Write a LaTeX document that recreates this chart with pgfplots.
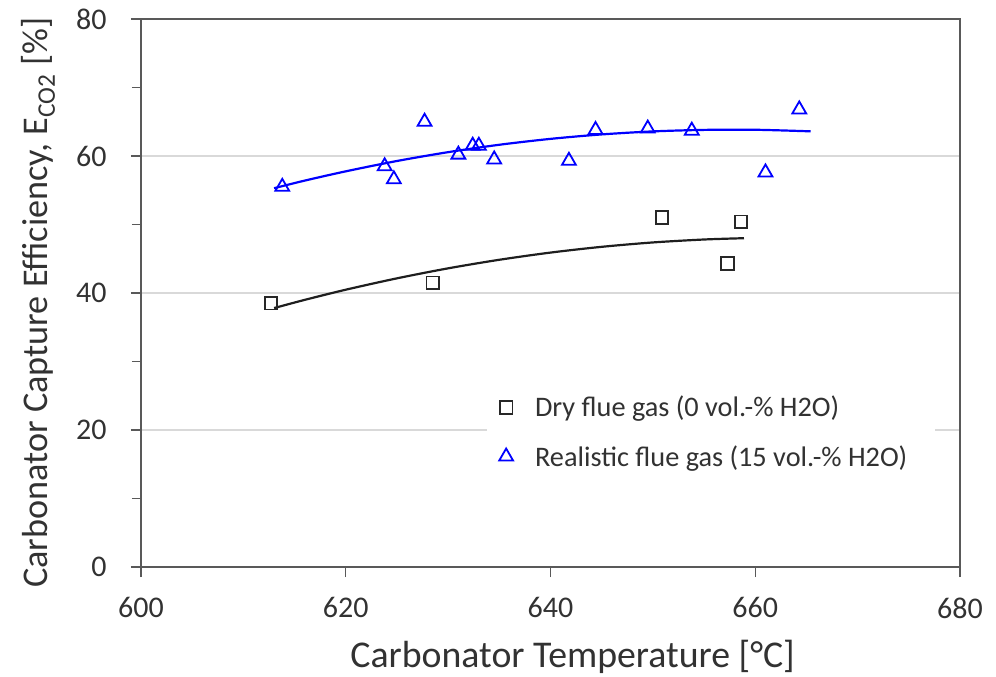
\documentclass[border=0pt]{standalone}
\usepackage{fontspec}
\setmainfont{Carlito}
\usepackage{pgfplots}
\pgfplotsset{compat=1.18}
\definecolor{axgray}{RGB}{89,89,89}
\definecolor{txtgray}{RGB}{50,50,50}
\definecolor{gridgray}{RGB}{217,217,217}
\begin{document}
\begin{tikzpicture}
\begin{axis}[
  scale only axis,
  width=819pt, height=548pt,
  xmin=600, xmax=680, ymin=0, ymax=80,
  xtick={600,620,...,680},
  ytick={0,20,...,80},
  minor ytick={10,30,50,70},
  tick align=outside,
  xtick pos=bottom, ytick pos=left,
  major tick length=10pt, minor tick length=9pt,
  every tick/.style={draw=axgray, line width=1.5pt},
  axis line style={draw=axgray, line width=1.6pt},
  ymajorgrids,
  major grid style={draw=gridgray, line width=1.2pt},
  /pgf/number format/assume math mode=true,
  ticklabel style={font=\fontsize{30}{35}\selectfont, text=txtgray},
  xticklabel style={yshift=-17pt},
  yticklabel style={xshift=-21pt},
  xlabel={Carbonator Temperature [°C]},
  ylabel={Carbonator Capture Efficiency, E\textsubscript{CO2} [\%]},
  xlabel style={font=\fontsize{37.8}{44}\selectfont, text=txtgray,
    at={(axis description cs:0.527,0)}, anchor=center, yshift=-90pt},
  ylabel style={font=\fontsize{36.2}{42}\selectfont, text=txtgray,
    at={([xshift=-103pt]axis description cs:0,0.482)}, anchor=center},
  legend style={at={(axis description cs:0.4225,0.3266)}, anchor=north west,
    draw=none, fill=white, font=\fontsize{28.3}{33}\selectfont, text=txtgray,
    row sep=23pt, inner xsep=12pt, inner ysep=6pt,
    /tikz/every odd column/.append style={column sep=20pt}},
  legend cell align=left,
  legend image code/.code={\draw[#1] plot coordinates {(0pt,0pt)};},
]
% fitted trend lines
\addplot[forget plot, color={rgb,255:red,30;green,30;blue,30}, line width=2.2pt, smooth] coordinates {
 (613,37.8) (616,39.0) (620,40.48) (625,42.14) (630,43.60) (635,44.85)
 (640,45.9) (645,46.74) (650,47.38) (655,47.81) (658.9,48.0)};
\addplot[forget plot, color={rgb,255:red,0;green,0;blue,255}, line width=2.2pt, smooth] coordinates {
 (613,55.3) (616,56.41) (620,57.76) (625,59.27) (630,60.56) (635,61.64)
 (640,62.5) (645,63.15) (650,63.59) (655,63.81) (660,63.83) (665.4,63.6)};
% dry flue gas
\addplot[only marks, mark=square, mark size=6.3pt,
  mark options={draw={rgb,255:red,40;green,40;blue,40}, line width=1.8pt, fill=none}] coordinates {
 (612.7,38.5) (628.5,41.5) (650.9,51.0) (658.6,50.4) (657.3,44.3)};
\addlegendentry{Dry flue gas (0 vol.-\% H2O)}
% realistic flue gas
\addplot[only marks, mark=triangle, mark size=8pt,
  mark options={draw={rgb,255:red,0;green,0;blue,255}, line width=1.8pt, fill=none}] coordinates {
 (613.8,55.5) (623.8,58.5) (624.7,56.6) (627.7,65.0) (631.0,60.2) (632.4,61.5)
 (633.0,61.5) (634.5,59.5) (641.8,59.3) (644.4,63.8) (649.5,64.0) (653.8,63.7)
 (661.0,57.6) (664.3,66.8)};
\addlegendentry{Realistic flue gas (15 vol.-\% H2O)\hspace*{14pt}}
\end{axis}
\pgfresetboundingbox
\path (-141pt,-110pt) rectangle (855pt,567pt);
\end{tikzpicture}
\end{document}
